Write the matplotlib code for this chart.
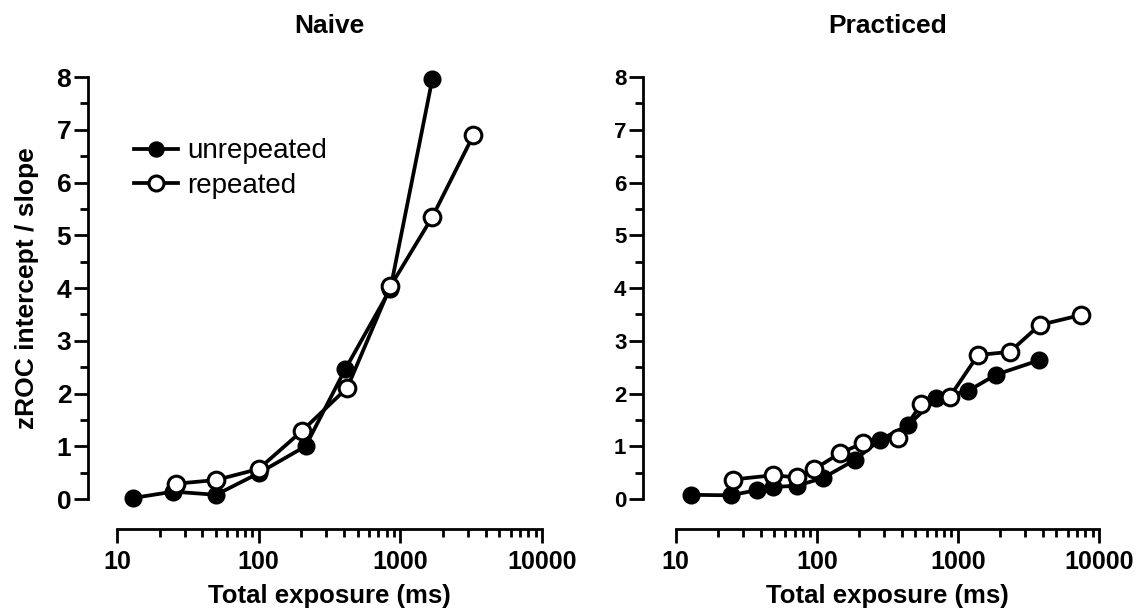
#### #### #### #### #### #### #### #### #### #### #### #### #### #### #### #### #### #### #### ####
### Import functions

import numpy as np
import matplotlib
matplotlib.use('Agg')
import matplotlib.pyplot as plt
from matplotlib.ticker import LogLocator, MultipleLocator, FixedLocator, NullFormatter


#### #### #### #### #### #### #### #### #### #### #### #### #### #### #### #### #### #### #### ####
#### DATA

# Naive
naive_unrep_x = [13, 25, 50, 100, 214, 408, 850, 1683]
naive_unrep_y = [0.02, 0.14, 0.08, 0.49, 1.00, 2.46, 3.98, 7.97]

naive_rep_x = [26, 50, 100, 202, 422, 850, 1683, 3280]
naive_rep_y = [0.29, 0.36, 0.57, 1.29, 2.11, 4.03, 5.35, 6.90]

# Practiced
prac_unrep_x = [12.8, 24.5, 37.8, 49, 72, 111, 186, 280, 444, 705, 1180, 1875, 3760]
prac_unrep_y = [0.08, 0.07, 0.17, 0.23, 0.25, 0.40, 0.74, 1.12, 1.40, 1.91, 2.05, 2.36, 2.63]

prac_rep_x = [25.4, 49, 72.6, 95.3, 146, 213, 377, 552, 877, 1390, 2335, 3800, 7500]
prac_rep_y = [0.37, 0.45, 0.41, 0.56, 0.87, 1.06, 1.15, 1.81, 1.94, 2.73, 2.79, 3.30, 3.49]

titles = ['Naive', 'Practiced']
xticks = [10, 100, 1000, 10000]
yticks = [0, 1, 2, 3, 4, 5, 6, 7, 8]


#### #### #### #### #### #### #### #### #### #### #### #### #### #### #### #### #### #### #### ####
#### PLOT

plt.rcParams['font.family'] = ['Liberation Sans', 'DejaVu Sans']
plt.rcParams['font.weight'] = 'bold'

fg = plt.figure(figsize=(11.45, 6.16), dpi=100)

ax1 = fg.add_axes([0.1022, 0.1899, 0.3712, 0.685])
ax2 = fg.add_axes([0.5901, 0.1899, 0.3697, 0.685])

lw = 2.7
ms = 12

def style_axes(ax, yoff, ysize):
	ax.set_xscale('log')
	ax.set_xlim(10, 10000)
	ax.set_ylim(0, 8)

	ax.spines['top'].set_visible(False)
	ax.spines['right'].set_visible(False)
	ax.spines['left'].set_position(('outward', yoff))
	ax.spines['bottom'].set_position(('outward', 21.6))
	ax.spines['left'].set_linewidth(2.0)
	ax.spines['bottom'].set_linewidth(2.0)

	ax.xaxis.set_major_locator(FixedLocator(xticks))
	ax.set_xticklabels([str(t) for t in xticks])
	ax.xaxis.set_minor_locator(LogLocator(base=10, subs=np.arange(2, 10)))
	ax.xaxis.set_minor_formatter(NullFormatter())

	ax.yaxis.set_major_locator(FixedLocator(yticks))
	ax.yaxis.set_minor_locator(MultipleLocator(0.5))

	ax.tick_params(which='major', direction='out', length=10, width=2.0)
	ax.tick_params(which='minor', direction='out', length=5.5, width=2.0)
	ax.tick_params(axis='x', labelsize=18, pad=5)
	ax.tick_params(axis='y', labelsize=ysize, pad=2)

	ax.set_xlabel('Total exposure (ms)', fontsize=18.5, fontweight='bold', labelpad=7)


# Naive

ax1.plot(naive_unrep_x, naive_unrep_y, '-o', color='k', lw=lw, ms=ms, mfc='k', mec='k',
	clip_on=False, label='unrepeated', zorder=3)
ax1.plot(naive_rep_x, naive_rep_y, '-o', color='k', lw=lw, ms=ms, mfc='white', mec='k', mew=2.2,
	clip_on=False, label='repeated', zorder=3)

style_axes(ax1, 20.9, 19)
ax1.set_ylabel('zROC intercept / slope', fontsize=19, fontweight='bold', labelpad=13)
ax1.set_title(titles[0], fontsize=19, fontweight='bold', pad=32)

leg = ax1.legend(loc='upper left', bbox_to_anchor=(0.04, 0.855), frameon=False,
	prop={'size': 20, 'weight': 'normal'}, handlelength=1.6, handletextpad=0.3,
	labelspacing=0.3, borderpad=0, borderaxespad=0, markerscale=0.9)

# Practiced

ax2.plot(prac_unrep_x, prac_unrep_y, '-o', color='k', lw=lw, ms=ms, mfc='k', mec='k',
	clip_on=False, zorder=3)
ax2.plot(prac_rep_x, prac_rep_y, '-o', color='k', lw=lw, ms=ms, mfc='white', mec='k', mew=2.2,
	clip_on=False, zorder=3)

style_axes(ax2, 23.5, 16)
ax2.set_title(titles[1], fontsize=19, fontweight='bold', pad=32)

plt.savefig('out.png', dpi=100)
